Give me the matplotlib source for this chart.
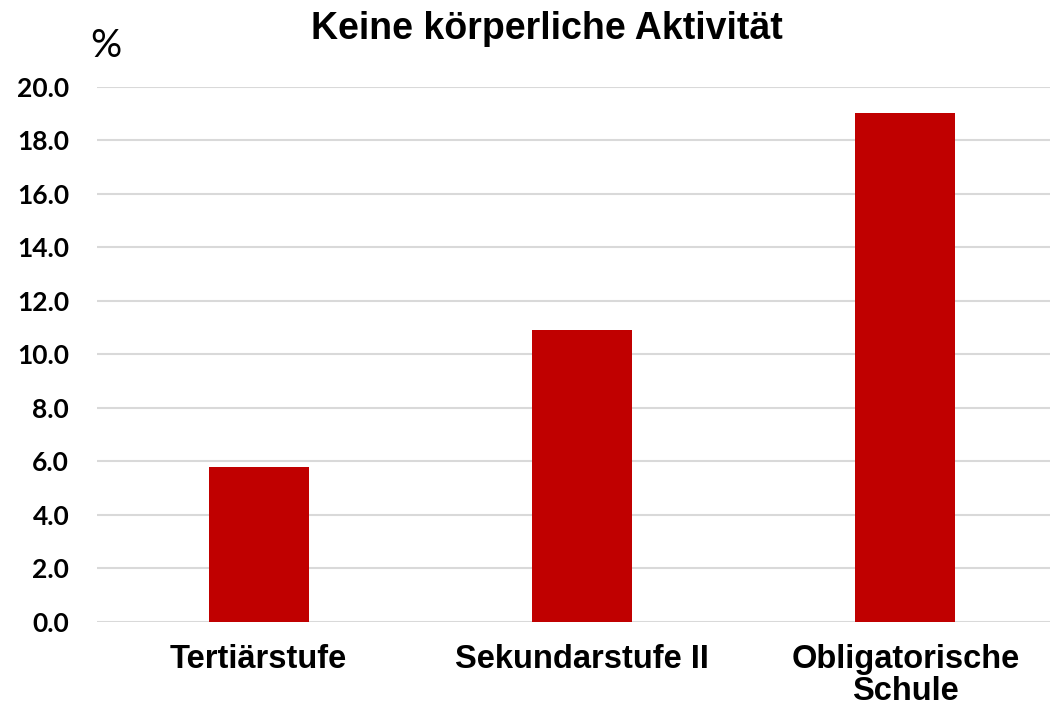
import matplotlib
matplotlib.use("Agg")
import matplotlib.pyplot as plt

categories = ["Tertiärstufe", "Sekundarstufe II", "Obligatorische\nSchule"]
values = [5.8, 10.9, 19.0]
yticks = [0, 2, 4, 6, 8, 10, 12, 14, 16, 18, 20]
title = "Keine körperliche Aktivität"

W, H = 1050, 710
fig = plt.figure(figsize=(W / 100, H / 100), dpi=100)
left, right = 97 / W, 1067 / W
bottom, top = 1 - 621.7 / H, 1 - 86.7 / H
ax = fig.add_axes([left, bottom, right - left, top - bottom])

x = list(range(len(categories)))
ax.bar(x, values, width=0.31, color="#C00000", zorder=3)
ax.set_xlim(-0.5, 2.5)
ax.set_ylim(0, 20)
ax.set_yticks(yticks)
ax.set_yticklabels([f"{v:.1f}" for v in yticks], fontfamily="Lato", fontweight="bold", fontsize=19)
ax.set_xticks(x)
ax.set_xticklabels(categories, fontfamily="Liberation Sans", fontweight="bold", fontsize=23.5, linespacing=1.05)
ax.tick_params(axis="y", length=0, pad=20)
ax.tick_params(axis="x", length=0, pad=16)
ax.grid(axis="y", color="#D9D9D9", linewidth=1.5, zorder=0)
for s in ax.spines.values():
    s.set_visible(False)

fig.text(547 / W, 1 - 29 / H, title, ha="center", va="center",
         fontfamily="Liberation Sans", fontweight="bold", fontsize=27)
fig.text(106 / W, 1 - 46 / H, "%", ha="center", va="center",
         fontfamily="Lato", fontsize=28)

fig.savefig("out.png", dpi=100)
